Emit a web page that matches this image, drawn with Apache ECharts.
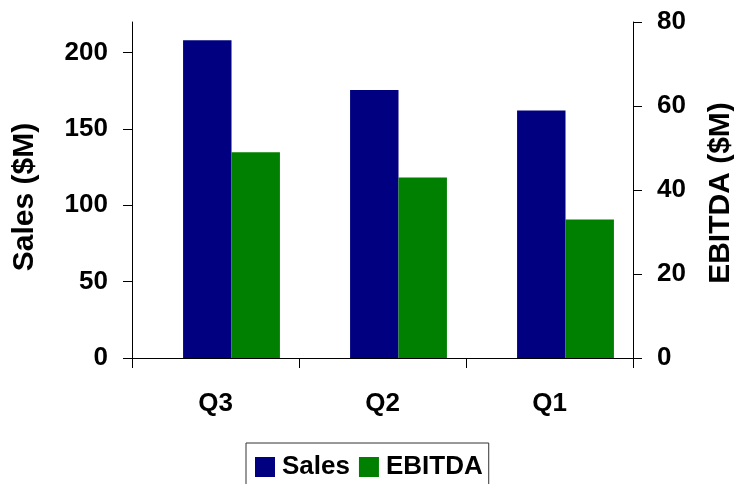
<!DOCTYPE html>
<html>
<head>
<meta charset="utf-8">
<script src="https://cdn.jsdelivr.net/npm/echarts@6/dist/echarts.min.js"></script>
<style>
  html, body { margin: 0; padding: 0; background: #fff; }
  #chart { width: 734px; height: 484px; }
</style>
</head>
<body>
<div id="chart"></div>
<script>
// Quarterly figures
const quarters = ['Q3', 'Q2', 'Q1'];
const sales = [208, 175.5, 162];      // $M, left axis
const ebitda = [49, 43, 33];          // $M, right axis
const salesTicks = [0, 50, 100, 150, 200];
const ebitdaTicks = [0, 20, 40, 60, 80];
const SALES_MAX = 220;
const EBITDA_MAX = 80;

const FONT = '"Liberation Sans", Arial, sans-serif';
const tickFont = { fontFamily: FONT, fontWeight: 'bold', fontSize: 26, color: '#000' };
const nameFont = { fontFamily: FONT, fontWeight: 'bold', fontSize: 30, color: '#000' };
const axisLine = { show: true, lineStyle: { color: '#000', width: 1 } };
const hidden = { show: false };

const chart = echarts.init(document.getElementById('chart'), null, { renderer: 'canvas' });
chart.setOption({
  animation: false,
  backgroundColor: '#fff',
  grid: [
    // frame: axes, ticks, labels
    { left: 132, right: 101, top: 22, bottom: 126, containLabel: false, outerBoundsMode: 'none' },
    // plot: bars sit a little right of the category centres
    { left: 148, right: 85, top: 22, bottom: 126, containLabel: false, outerBoundsMode: 'none' }
  ],
  legend: {
    data: ['Sales', 'EBITDA'],
    left: 246,
    top: 443,
    icon: 'rect',
    itemWidth: 20,
    itemHeight: 20,
    itemGap: 9,
    padding: [11, 6, 11, 9],
    borderColor: '#333',
    borderWidth: 1,
    textStyle: { fontFamily: FONT, fontWeight: 'bold', fontSize: 26, color: '#000', padding: [0, 0, 0, 2] }
  },
  xAxis: [
    {
      type: 'category',
      gridIndex: 0,
      data: quarters,
      axisLine: axisLine,
      axisTick: { show: true, length: 10, inside: false, lineStyle: { color: '#000' } },
      axisLabel: Object.assign({ margin: 33 }, tickFont)
    },
    {
      type: 'category',
      gridIndex: 1,
      data: quarters,
      axisLine: hidden, axisTick: hidden, axisLabel: hidden, splitLine: hidden
    }
  ],
  yAxis: [
    {
      type: 'value',
      gridIndex: 0,
      min: 0,
      max: SALES_MAX,
      interval: 50,
      position: 'left',
      name: 'Sales ($M)',
      nameLocation: 'middle',
      nameRotate: 90,
      nameGap: 92,
      nameTextStyle: Object.assign({ padding: [0, 14, 0, 0] }, nameFont),
      axisLine: axisLine,
      splitLine: hidden,
      axisTick: { show: true, length: 9, lineStyle: { color: '#000' }, customValues: salesTicks },
      axisLabel: Object.assign({ margin: 24, customValues: salesTicks }, tickFont)
    },
    {
      type: 'value',
      gridIndex: 0,
      min: 0,
      max: EBITDA_MAX,
      interval: 20,
      position: 'right',
      name: 'EBITDA ($M)',
      nameLocation: 'middle',
      nameRotate: 90,
      nameGap: 73,
      nameTextStyle: Object.assign({ padding: [0, 6, 0, 0] }, nameFont),
      axisLine: axisLine,
      splitLine: hidden,
      axisTick: { show: true, length: 9, lineStyle: { color: '#000' }, customValues: ebitdaTicks },
      axisLabel: Object.assign({ margin: 24, customValues: ebitdaTicks }, tickFont)
    },
    {
      type: 'value', gridIndex: 1, min: 0, max: SALES_MAX, position: 'left',
      axisLine: hidden, axisTick: hidden, axisLabel: hidden, splitLine: hidden
    },
    {
      type: 'value', gridIndex: 1, min: 0, max: EBITDA_MAX, position: 'right',
      axisLine: hidden, axisTick: hidden, axisLabel: hidden, splitLine: hidden
    }
  ],
  series: [
    {
      name: 'Sales',
      type: 'bar',
      xAxisIndex: 1,
      yAxisIndex: 2,
      data: sales,
      barGap: '0%',
      barCategoryGap: '42%',
      itemStyle: { color: '#000080' }
    },
    {
      name: 'EBITDA',
      type: 'bar',
      xAxisIndex: 1,
      yAxisIndex: 3,
      data: ebitda,
      barGap: '0%',
      barCategoryGap: '42%',
      itemStyle: { color: '#008000' }
    }
  ]
});
</script>
</body>
</html>
